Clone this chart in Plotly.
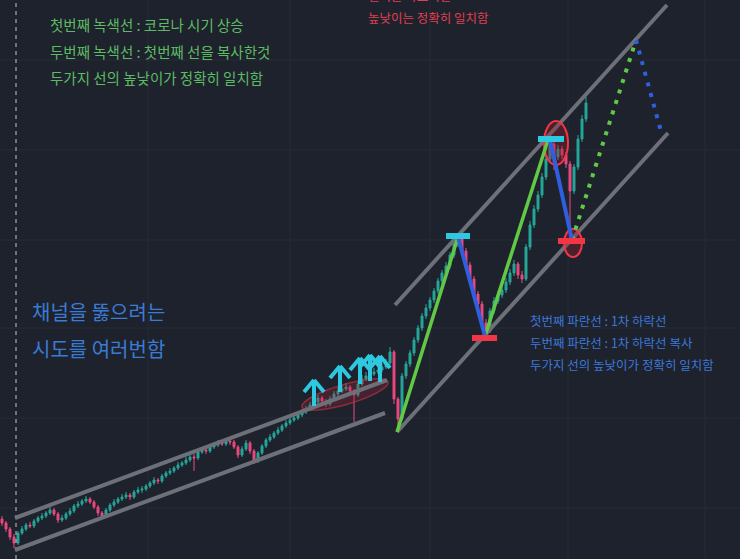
import numpy as np
import plotly.graph_objects as go

# ---------------- data (bar index, price units) ----------------
bar_index = list(range(147))
open_ = [40, 36, 30, 22, 16, 26, 30, 34, 33, 38, 41, 43, 46, 49, 45, 39, 41, 45, 48, 53,
         55, 58, 60, 57, 52, 46, 43, 49, 54, 57, 60, 62, 64, 62, 67, 69, 70, 73, 76, 79,
         78, 83, 86, 88, 91, 94, 96, 99, 102, 101, 107, 109, 108, 112, 114, 116, 115, 118, 117, 112,
         104, 110, 116, 108, 98, 106, 113, 119, 122, 126, 129, 133, 136, 139, 141, 144, 147, 150, 154, 157,
         161, 158, 155, 160, 165, 168, 170, 172, 168, 164, 175, 180, 183, 185, 187, 189, 192, 196, 207, 160,
         140, 183, 195, 206, 219, 231, 243, 251, 259, 268, 278, 286, 293, 304, 315, 320, 308, 294, 280, 265,
         255, 236, 228, 248, 258, 264, 269, 277, 286, 295, 284, 280, 312, 334, 350, 364, 382, 400, 415, 402,
         410, 404, 395, 368, 392, 420, 440]
close = [36, 30, 22, 16, 26, 30, 34, 33, 38, 41, 43, 46, 49, 45, 39, 41, 45, 48, 53, 55,
         58, 60, 57, 52, 46, 43, 49, 54, 57, 60, 62, 64, 62, 67, 69, 70, 73, 76, 79, 78,
         83, 86, 88, 91, 94, 96, 99, 102, 101, 107, 109, 108, 112, 114, 116, 115, 118, 117, 112, 104,
         110, 116, 108, 98, 106, 113, 119, 122, 126, 129, 133, 136, 139, 141, 144, 147, 150, 154, 157, 161,
         158, 155, 160, 165, 168, 170, 172, 168, 164, 175, 180, 183, 185, 187, 189, 192, 196, 207, 160, 140,
         183, 195, 206, 219, 231, 243, 251, 259, 268, 278, 286, 293, 304, 315, 320, 308, 294, 280, 265, 255,
         236, 228, 248, 258, 264, 269, 277, 286, 295, 284, 280, 312, 334, 350, 364, 382, 400, 415, 402, 410,
         404, 395, 368, 392, 420, 440, 456]
high = [43, 38, 32, 25, 28, 33, 36, 37, 40, 43, 46, 48, 52, 51, 47, 44, 47, 51, 55, 58,
        60, 63, 62, 59, 54, 48, 51, 56, 60, 62, 65, 67, 66, 69, 72, 73, 75, 78, 82, 81,
        85, 88, 91, 93, 97, 98, 102, 104, 105, 109, 112, 111, 115, 117, 119, 118, 121, 120, 119, 114,
        113, 119, 118, 110, 108, 115, 121, 125, 128, 132, 135, 139, 141, 144, 147, 150, 153, 157, 160, 164,
        163, 160, 163, 168, 172, 174, 176, 174, 170, 178, 184, 187, 190, 191, 193, 196, 200, 212, 209, 162,
        186, 198, 209, 222, 234, 246, 255, 262, 271, 281, 289, 297, 307, 318, 324, 322, 311, 297, 283, 268,
        258, 240, 251, 262, 268, 273, 281, 290, 299, 297, 288, 315, 338, 354, 368, 386, 404, 421, 417, 414,
        413, 407, 398, 395, 424, 444, 462]
low = [33, 27, 19, 11, 14, 24, 28, 31, 31, 36, 39, 41, 44, 43, 36, 37, 39, 43, 46, 51,
       53, 56, 55, 50, 43, 40, 41, 47, 52, 55, 58, 60, 59, 60, 65, 66, 68, 71, 74, 75,
       76, 81, 84, 86, 89, 92, 94, 97, 88, 99, 105, 105, 106, 110, 112, 113, 113, 114, 110, 101,
       102, 108, 105, 95, 96, 104, 111, 117, 120, 124, 127, 131, 134, 137, 139, 142, 145, 148, 152, 155,
       156, 152, 153, 158, 163, 166, 168, 165, 137, 162, 173, 178, 181, 183, 185, 187, 190, 194, 155, 127,
       138, 180, 192, 203, 216, 228, 240, 248, 256, 265, 275, 283, 290, 301, 312, 305, 290, 276, 261, 251,
       232, 222, 226, 245, 255, 261, 266, 274, 283, 280, 276, 278, 309, 331, 347, 361, 379, 397, 389, 399,
       400, 391, 320, 365, 389, 417, 437]

# ---------------- drawings (bar index, price) ----------------
channel_lines = [((3.25, 9), (95.75, 146)), ((3.25, 41), (96.25, 179)),
                 ((98.25, 254), (166.25, 554)), ((98.75, 127), (166.5, 426))]
green_lines = [((98.75, 127), (114, 322)), ((120.75, 223), (136.5, 419))]
green_dotted = [((142.5, 319), (158.5, 519))]
blue_lines = [((114, 322), (120.75, 223)), ((137, 419), (142.5, 319))]
blue_dotted = [((158.5, 519), (165, 424))]
cyan_bars = [((111, 323), (117, 323)), ((134, 420), (140.5, 420))]
red_bars = [((117.5, 221), (123.75, 221)), ((139, 318), (145.75, 318))]
red_ellipses = [((135.5, 394), (141.5, 438)), ((140.5, 302), (145, 330))]
arrow_tips = [(78, 179), (84.5, 193), (89.5, 201), (92, 204), (94.5, 203)]
band_ellipse = {"x1": 75, "y1": 152, "x2": 96.5, "y2": 177, "minor": 10}

green_texts = ["첫번째 녹색선 : 코로나 시기 상승", "두번째 녹색선 : 첫번째 선을 복사한것",
               "두가지 선의 높낮이가 정확히 일치함"]
red_texts = ["길이는 다르지만", "높낮이는 정확히 일치함"]
blue_big_texts = ["채널을 뚫으려는", "시도를 여러번함"]
blue_small_texts = ["첫번째 파란선 : 1차 하락선", "두번째 파란선 : 1차 하락선 복사",
                    "두가지 선의 높낮이가 정확히 일치함"]

W, H = 740, 559
X_RANGE = [-0.5, 184.5]
Y_RANGE = [0, 559]
BG = "#1e222d"
FONT = "Noto Sans CJK KR"

fig = go.Figure()
fig.add_trace(go.Candlestick(
    x=bar_index, open=open_, high=high, low=low, close=close,
    increasing=dict(line=dict(color="#26a69a", width=1), fillcolor="#26a69a"),
    decreasing=dict(line=dict(color="#e84a7f", width=1), fillcolor="#e84a7f"),
    whiskerwidth=0, hoverinfo="skip", showlegend=False,
))

shapes = []
def seg(p0, p1, color, width, dash="solid"):
    shapes.append(dict(type="line", xref="x", yref="y", x0=p0[0], y0=p0[1], x1=p1[0], y1=p1[1],
                       line=dict(color=color, width=width, dash=dash), layer="above"))

# grid lines
for gx in [36.5, 72, 107, 141.5, 175.75]:
    shapes.append(dict(type="line", xref="x", yref="paper", x0=gx, x1=gx, y0=0, y1=1,
                       line=dict(color="#272b36", width=1), layer="below"))
for gy in [499, 409, 319, 231, 141, 51]:
    shapes.append(dict(type="line", xref="paper", yref="y", x0=0, x1=1, y0=gy, y1=gy,
                       line=dict(color="#272b36", width=1), layer="below"))
# dashed vertical line
shapes.append(dict(type="line", xref="x", yref="paper", x0=3.5, x1=3.5, y0=0, y1=1,
                   line=dict(color="rgba(225,225,225,0.85)", width=1, dash="4px,4px"), layer="above"))

# band ellipse (tilted) built in pixel space
sx = (X_RANGE[1] - X_RANGE[0]) / W
sy = (Y_RANGE[1] - Y_RANGE[0]) / H
e = band_ellipse
ax1, ay1 = e["x1"] / sx, e["y1"] / sy
ax2, ay2 = e["x2"] / sx, e["y2"] / sy
cx, cy = (ax1 + ax2) / 2, (ay1 + ay2) / 2
a = np.hypot(ax2 - ax1, ay2 - ay1) / 2
ang = np.arctan2(ay2 - ay1, ax2 - ax1)
t = np.linspace(0, 2 * np.pi, 60)
ex = cx + a * np.cos(t) * np.cos(ang) - e["minor"] * np.sin(t) * np.sin(ang)
ey = cy + a * np.cos(t) * np.sin(ang) + e["minor"] * np.sin(t) * np.cos(ang)
path = "M " + " L ".join(f"{px * sx:.3f},{py * sy:.3f}" for px, py in zip(ex, ey)) + " Z"
shapes.append(dict(type="path", xref="x", yref="y", path=path,
                   fillcolor="rgba(170,35,55,0.28)", line=dict(color="rgba(215,55,75,0.55)", width=1.5),
                   layer="above"))

for p0, p1 in channel_lines:
    seg(p0, p1, "#6d7079", 4)
for (x0, y0), (x1, y1) in red_ellipses:
    shapes.append(dict(type="circle", xref="x", yref="y", x0=x0, y0=y0, x1=x1, y1=y1,
                       line=dict(color="#f23645", width=2), fillcolor="rgba(160,30,45,0.35)",
                       layer="above"))
for p0, p1 in green_lines:
    seg(p0, p1, "#62c946", 3.5)
for p0, p1 in green_dotted:
    seg(p0, p1, "#62c946", 4, "4px,7px")
for p0, p1 in blue_lines:
    seg(p0, p1, "#2f5fe0", 4)
for p0, p1 in blue_dotted:
    seg(p0, p1, "#2f5fe0", 4, "4px,7px")
for p0, p1 in cyan_bars:
    seg(p0, p1, "#2ec8e0", 6)
for p0, p1 in red_bars:
    seg(p0, p1, "#f23645", 6)
# arrows
for tx, ty in arrow_tips:
    dx, dy = 10 * sx, 12 * sy
    seg((tx - dx, ty - dy), (tx, ty), "#2ec8e0", 4)
    seg((tx, ty), (tx + dx, ty - dy), "#2ec8e0", 4)
    seg((tx, ty), (tx, ty - 26 * sy), "#2ec8e0", 4)

annotations = []
def txt(s, px, py, color, size):
    annotations.append(dict(text=s, xref="paper", yref="paper", x=px / W, y=1 - py / H,
                            xanchor="left", yanchor="middle", showarrow=False,
                            font=dict(family=FONT, size=size, color=color)))

for s, py in zip(green_texts, [25, 51, 77]):
    txt(s, 48, py, "#5dbb63", 14.5)
for s, py in zip(red_texts, [-4, 18]):
    txt(s, 366, py, "#e0404f", 12.5)
for s, py in zip(blue_big_texts, [311, 348]):
    txt(s, 30, py, "#3a7bd5", 20)
for s, py in zip(blue_small_texts, [320, 342, 364]):
    txt(s, 528, py, "#3a78d8", 12.5)

fig.update_layout(
    width=W, height=H, margin=dict(l=0, r=0, t=0, b=0),
    paper_bgcolor=BG, plot_bgcolor=BG, shapes=shapes, annotations=annotations,
    showlegend=False, hovermode=False,
    xaxis=dict(range=X_RANGE, visible=False, rangeslider=dict(visible=False), fixedrange=True),
    yaxis=dict(range=Y_RANGE, visible=False, fixedrange=True),
)
fig.write_html("out.html", config={"displayModeBar": False},
               post_script="document.body.style.margin='0';document.body.style.overflow='hidden';"
                           "document.body.style.background='" + BG + "';")
